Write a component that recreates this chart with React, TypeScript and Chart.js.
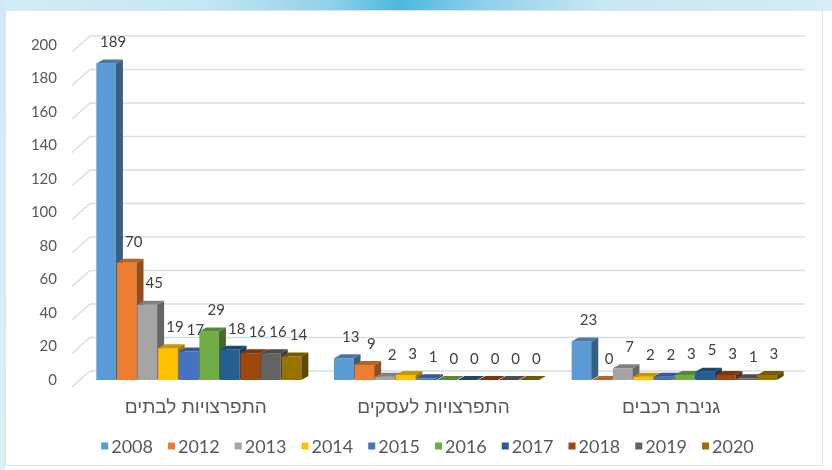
import { useEffect, useRef } from "react";
import { Chart, registerables } from "chart.js";

Chart.register(...registerables);

const categories = ["התפרצויות לבתים", "התפרצויות לעסקים", "גניבת רכבים"];
const years = ["2008", "2012", "2013", "2014", "2015", "2016", "2017", "2018", "2019", "2020"];
const v2008 = [189, 13, 23];
const v2012 = [70, 9, 0];
const v2013 = [45, 2, 7];
const v2014 = [19, 3, 2];
const v2015 = [17, 1, 2];
const v2016 = [29, 0, 3];
const v2017 = [18, 0, 5];
const v2018 = [16, 0, 3];
const v2019 = [16, 0, 1];
const v2020 = [14, 0, 3];
const seriesValues = [v2008, v2012, v2013, v2014, v2015, v2016, v2017, v2018, v2019, v2020];
const seriesColors = [
  "#5B9BD5", "#ED7D31", "#A5A5A5", "#FFC000", "#4472C4",
  "#70AD47", "#255E91", "#9E480E", "#636363", "#997300",
];

const FONT = "Lato, 'Liberation Sans', 'DejaVu Sans', sans-serif";
const HEB_FONT = "'Liberation Sans', 'DejaVu Sans', sans-serif";
const TEXT = "#595959";
const D = 7;
const DY = 4;

function shade(hex: string, f: number): string {
  const n = parseInt(hex.slice(1), 16);
  const r = Math.round(((n >> 16) & 255) * f);
  const g = Math.round(((n >> 8) & 255) * f);
  const b = Math.round((n & 255) * f);
  return `rgb(${r},${g},${b})`;
}

const bars3d = {
  id: "bars3d",
  beforeDatasetsDraw(chart: any) {
    const { ctx, chartArea } = chart;
    const y = chart.scales.y;
    ctx.save();
    // back wall + side wall grid
    ctx.strokeStyle = "#D6DEE8";
    ctx.lineWidth = 1.5;
    for (const t of y.ticks) {
      const py = y.getPixelForValue(t.value);
      ctx.beginPath();
      ctx.moveTo(chartArea.left - 8, py + 7);
      ctx.lineTo(chartArea.left + 10, py - 9);
      ctx.lineTo(chartArea.right + 12, py - 9);
      ctx.stroke();
    }
    // bars
    chart.data.datasets.forEach((ds: any, i: number) => {
      const meta = chart.getDatasetMeta(i);
      meta.data.forEach((bar: any) => {
        const { x, y: top, base, width } = bar.getProps(["x", "y", "base", "width"], true);
        const l = x - width / 2;
        const r = x + width / 2;
        const color = ds.backgroundColor as string;
        ctx.fillStyle = color;
        ctx.fillRect(l, top, width, base - top);
        ctx.fillStyle = shade(color, 0.62);
        ctx.beginPath();
        ctx.moveTo(r, top);
        ctx.lineTo(r + D, top - DY);
        ctx.lineTo(r + D, base - DY);
        ctx.lineTo(r, base);
        ctx.closePath();
        ctx.fill();
        ctx.fillStyle = shade(color, 0.78);
        ctx.beginPath();
        ctx.moveTo(l, top);
        ctx.lineTo(l + D, top - DY);
        ctx.lineTo(r + D, top - DY);
        ctx.lineTo(r, top);
        ctx.closePath();
        ctx.fill();
      });
    });
    // value labels
    ctx.fillStyle = "#404040";
    ctx.font = `15px ${FONT}`;
    ctx.textAlign = "center";
    ctx.textBaseline = "middle";
    chart.data.datasets.forEach((ds: any, i: number) => {
      const meta = chart.getDatasetMeta(i);
      meta.data.forEach((bar: any, j: number) => {
        const { x, y: top } = bar.getProps(["x", "y"], true);
        ctx.fillText(String(ds.data[j]), x + 7, top - 21);
      });
    });
    ctx.restore();
    return false;
  },
  afterDraw(chart: any) {
    const { ctx, chartArea } = chart;
    const xs = chart.scales.x;
    ctx.save();
    // category labels
    ctx.fillStyle = TEXT;
    ctx.font = `19px ${HEB_FONT}`;
    ctx.textAlign = "center";
    ctx.textBaseline = "middle";
    chart.data.labels.forEach((lab: string, j: number) => {
      ctx.fillText(lab, xs.getPixelForValue(j) - 3, chartArea.bottom + 28);
    });
    // legend
    ctx.font = `18px ${FONT}`;
    ctx.textAlign = "left";
    const box = 7, gap = 3, spacing = 15;
    const items = chart.data.datasets.map((ds: any) => ({
      text: ds.label as string,
      color: ds.backgroundColor as string,
      w: ctx.measureText(ds.label).width,
    }));
    const total = items.reduce((s: number, it: any) => s + box + gap + it.w, 0) + spacing * (items.length - 1);
    let cx = (chartArea.left + chartArea.right) / 2 - 9 - total / 2;
    const cy = chartArea.bottom + 66;
    for (const it of items) {
      ctx.fillStyle = it.color;
      ctx.fillRect(cx, cy - box / 2, box, box);
      ctx.fillStyle = TEXT;
      ctx.fillText(it.text, cx + box + gap, cy + 1);
      cx += box + gap + it.w + spacing;
    }
    ctx.restore();
  },
};

export default function App() {
  const ref = useRef<HTMLCanvasElement | null>(null);

  useEffect(() => {
    document.body.style.margin = "0";
    if (!ref.current) return;
    const chart = new Chart(ref.current, {
      type: "bar",
      data: {
        labels: categories,
        datasets: years.map((yr, i) => ({
          label: yr,
          data: seriesValues[i],
          backgroundColor: seriesColors[i],
          borderWidth: 0,
          categoryPercentage: 0.867,
          barPercentage: 0.95,
        })),
      },
      options: {
        animation: false,
        responsive: false,
        maintainAspectRatio: false,
        layout: { padding: { left: 32, right: 39, top: 45, bottom: 0 } },
        plugins: {
          tooltip: { enabled: false },
          legend: { display: false },
        },
        scales: {
          x: {
            grid: { display: false, drawTicks: false },
            border: { display: false },
            ticks: { display: false },
            afterFit: (s: any) => { s.height = 90; },
          },
          y: {
            min: 0,
            max: 200,
            grid: { display: false, drawTicks: false },
            border: { display: false },
            ticks: { stepSize: 20, color: TEXT, padding: 23, font: { size: 15, family: FONT } },
            afterFit: (s: any) => { s.width = 48; },
          },
        },
      },
      plugins: [bars3d],
    });
    return () => chart.destroy();
  }, []);

  return (
    <div style={{ position: "relative", width: 832, height: 470, background: "#FFFFFF", overflow: "hidden" }}>
      <div
        style={{
          position: "absolute", left: 0, top: 0, width: 832, height: 11,
          background: "linear-gradient(90deg, #D4EDF8 0%, #C2E6F4 25%, #8FD0EA 40%, #4DB7DE 48%, #8ED0EA 58%, #C6E7F4 72%, #D4EDF8 100%)",
        }}
      />
      <div
        style={{
          position: "absolute", left: 0, top: 0, width: 5, height: 470,
          background: "linear-gradient(180deg, #CFEAF6 0%, #DDF0F8 100%)",
        }}
      />
      <div
        style={{
          position: "absolute", left: 5, top: 10, width: 816, height: 454,
          background: "#FFFFFF", border: "1px solid #E2E4E6",
        }}
      />
      <canvas ref={ref} width={832} height={470} style={{ position: "absolute", left: 0, top: 0, width: 832, height: 470 }} />
    </div>
  );
}
